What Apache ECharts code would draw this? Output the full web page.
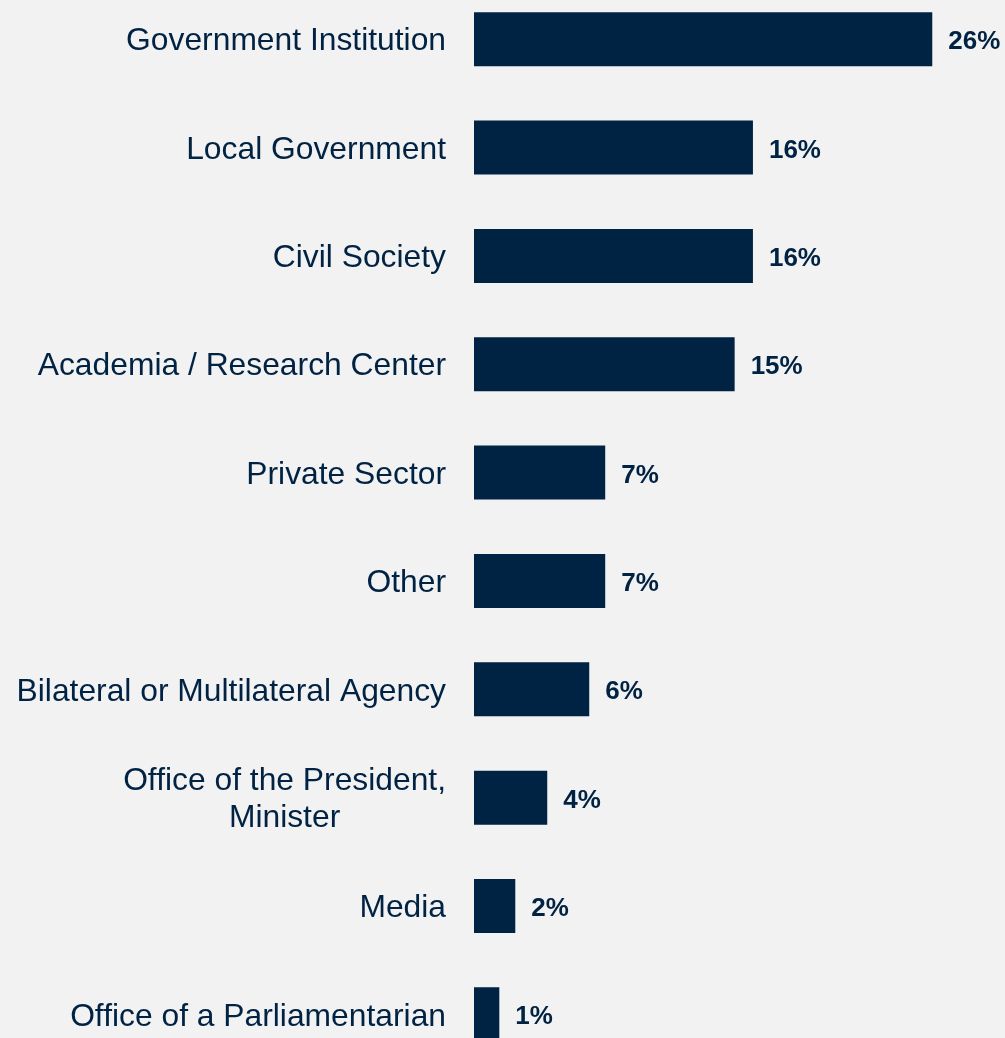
<!DOCTYPE html>
<html>
<head>
<meta charset="utf-8">
<title>Respondents by institution</title>
<script src="https://cdn.jsdelivr.net/npm/echarts@6/dist/echarts.min.js"></script>
<style>
    html, body { margin: 0; padding: 0; background: #f2f2f2; overflow: hidden; }
    /* the last row runs past the bottom edge, and the first band starts above the top */
    #chart { position: relative; top: -14.7px; width: 1005px; height: 1084px; }
</style>
</head>
<body>
<div id="chart"></div>
<script>
var categories = [
    'Government Institution',
    'Local Government',
    'Civil Society',
    'Academia / Research Center',
    'Private Sector',
    'Other',
    'Bilateral or Multilateral Agency',
    'Office of the President,\nMinister',
    'Media',
    'Office of a Parliamentarian'
];
var shares = [25.53, 15.54, 15.54, 14.52, 7.31, 7.31, 6.42, 4.08, 2.30, 1.41];

var navy = '#002243';
var fontFamily = '"Liberation Sans", Arial, sans-serif';

var chart = echarts.init(document.getElementById('chart'));

chart.setOption({
    backgroundColor: '#f2f2f2',
    animation: false,
    grid: {
        left: 474,
        top: 0,
        width: 502.6,
        height: 1083.5,
        containLabel: false
    },
    xAxis: {
        type: 'value',
        min: 0,
        max: 28,
        show: false
    },
    yAxis: {
        type: 'category',
        inverse: true,
        data: categories,
        axisLine: { show: false },
        axisTick: { show: false },
        splitLine: { show: false },
        axisLabel: {
            margin: 28,
            color: navy,
            fontFamily: fontFamily,
            fontSize: 31.8,
            lineHeight: 37,
            padding: [5, 0, 0, 0],
            // wrapped labels are centred line by line, like the original
            formatter: function (value) {
                if (value.indexOf('\n') < 0) {
                    return value;
                }
                return value.split('\n').map(function (line) {
                    return '{c|' + line + '}';
                }).join('\n');
            },
            rich: {
                c: {
                    align: 'center',
                    color: navy,
                    fontFamily: fontFamily,
                    fontSize: 31.8,
                    lineHeight: 37
                }
            }
        }
    },
    series: [{
        type: 'bar',
        data: shares,
        barWidth: 54,
        itemStyle: { color: navy },
        label: {
            show: true,
            position: 'right',
            distance: 16,
            offset: [0, 3],
            color: navy,
            fontFamily: fontFamily,
            fontSize: 26,
            fontWeight: 'bold',
            formatter: function (p) {
                return Math.round(p.value) + '%';
            }
        }
    }]
});
</script>
</body>
</html>
